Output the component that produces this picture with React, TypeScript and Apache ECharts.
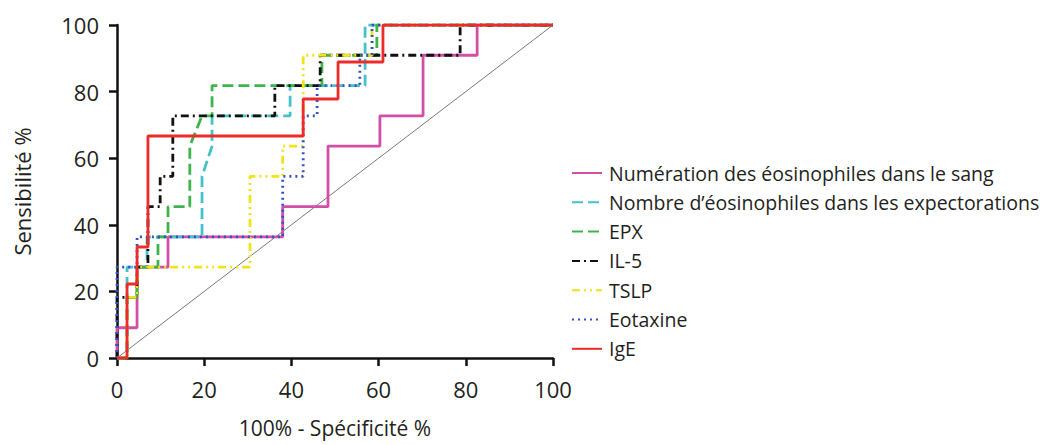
import React, { useEffect, useRef } from "react";
import * as echarts from "echarts";

// [100% - specificity, sensitivity] pairs for each ROC curve
const bloodEosinophils: [number, number][] = [
  [0, 0], [0, 9.09], [4.6, 9.09], [4.6, 27.27], [11.7, 27.27], [11.7, 36.36],
  [38, 36.36], [38, 45.45], [48.4, 45.45], [48.4, 63.64], [60.3, 63.64],
  [60.3, 72.73], [70.2, 72.73], [70.2, 90.91], [82.6, 90.91], [82.6, 100], [100, 100],
];
const sputumEosinophils: [number, number][] = [
  [0, 0], [2.3, 0], [2.3, 27.27], [6.9, 27.27], [6.9, 36.36], [19.5, 36.36],
  [19.5, 54.55], [21.8, 63.64], [21.8, 72.73], [39.7, 72.73], [39.7, 81.82],
  [56.9, 81.82], [56.9, 100], [100, 100],
];
const epx: [number, number][] = [
  [0, 0], [2.3, 0], [2.3, 18.18], [4.6, 18.18], [4.6, 27.27], [9.4, 27.27],
  [9.4, 36.36], [11.7, 36.36], [11.7, 45.45], [16.7, 45.45], [16.7, 63.64],
  [19.5, 72.73], [21.8, 72.73], [21.8, 81.82], [47, 81.82], [47, 90.91],
  [59.6, 90.91], [59.6, 100], [100, 100],
];
const il5: [number, number][] = [
  [0, 0], [0, 18.18], [4.6, 18.18], [4.6, 27.27], [7.1, 27.27], [7.1, 45.45],
  [9.9, 45.45], [9.9, 54.55], [12.8, 54.55], [12.8, 72.73], [36.2, 72.73],
  [36.2, 81.82], [46.6, 81.82], [46.6, 90.91], [78.7, 90.91], [78.7, 100], [100, 100],
];
const tslp: [number, number][] = [
  [0, 0], [2.3, 0], [2.3, 18.18], [4.6, 18.18], [4.6, 27.27], [30.5, 27.27],
  [30.5, 54.55], [38, 54.55], [38, 63.64], [42.7, 63.64], [42.7, 90.91],
  [58.5, 90.91], [58.5, 100], [100, 100],
];
const eotaxin: [number, number][] = [
  [0, 0], [0, 27.27], [4.6, 27.27], [4.6, 36.36], [38, 36.36], [38, 54.55],
  [42.7, 54.55], [42.7, 72.73], [45.9, 72.73], [45.9, 81.82], [55.7, 81.82],
  [55.7, 90.91], [58.5, 90.91], [58.5, 100], [100, 100],
];
const ige: [number, number][] = [
  [0, 0], [2.3, 0], [2.3, 22.22], [4.6, 22.22], [4.6, 33.33], [7.1, 33.33],
  [7.1, 66.67], [42.7, 66.67], [42.7, 77.78], [50.7, 77.78], [50.7, 88.89],
  [61, 88.89], [61, 100], [100, 100],
];
const identityLine: [number, number][] = [[0, 0], [100, 100]];

const seriesNames = [
  "Numération des éosinophiles dans le sang",
  "Nombre d’éosinophiles dans les expectorations",
  "EPX",
  "IL-5",
  "TSLP",
  "Eotaxine",
  "IgE",
];
const xAxisTitle = "100% - Spécificité %";
const yAxisTitle = "Sensibilité %";

const FONT = "'Open Sans', 'Noto Sans', sans-serif";

export default function App() {
  const ref = useRef<HTMLDivElement>(null);
  useEffect(() => {
    if (!ref.current) return;
    const chart = echarts.init(ref.current, undefined, { renderer: "svg" });
    const datasets = [bloodEosinophils, sputumEosinophils, epx, il5, tslp, eotaxin, ige];
    const colors = ["#d24fa6", "#45c2c9", "#3db54a", "#111111", "#f0e418", "#3352c4", "#ee2a2a"];
    const dashes: any[] = ["solid", [11, 5], [11, 5], [8, 4, 2, 4], [8, 4, 2, 4, 2, 4], [2, 4], "solid"];
    const series: any[] = [
      {
        type: "line",
        data: identityLine,
        symbol: "none",
        silent: true,
        lineStyle: { color: "#7a7a7a", width: 1 },
        z: 1,
      },
      ...datasets.map((d, i) => ({
        name: seriesNames[i],
        type: "line",
        data: d,
        symbol: "none",
        lineStyle: { color: colors[i], width: 2.8, type: dashes[i] },
        itemStyle: { color: colors[i] },
        z: 2 + i,
      })),
    ];
    chart.setOption({
      animation: false,
      backgroundColor: "#ffffff",
      grid: {
        left: 117,
        top: 25,
        width: 436,
        height: 333,
        containLabel: false,
        outerBoundsMode: "none",
      },
      legend: {
        data: seriesNames,
        orient: "vertical",
        left: 566,
        top: 158,
        itemWidth: 30,
        itemHeight: 14,
        itemGap: 9.3,
        itemStyle: { opacity: 0 },
        textStyle: { fontFamily: FONT, fontSize: 19.5, color: "#231f20", padding: [0, 0, 0, 2] },
      },
      xAxis: {
        type: "value",
        min: 0,
        max: 100,
        interval: 20,
        name: xAxisTitle,
        nameLocation: "middle",
        nameGap: 59,
        nameTextStyle: { fontFamily: FONT, fontSize: 21, color: "#231f20" },
        axisLine: { show: true, lineStyle: { color: "#111", width: 2.5 } },
        axisTick: { show: true, length: 8, lineStyle: { color: "#111", width: 2.5 } },
        axisLabel: { margin: 20, fontFamily: FONT, fontSize: 22, color: "#231f20" },
        splitLine: { show: false },
      },
      yAxis: {
        type: "value",
        min: 0,
        max: 100,
        interval: 20,
        name: yAxisTitle,
        nameLocation: "middle",
        nameGap: 84,
        nameTextStyle: { fontFamily: FONT, fontSize: 22, color: "#231f20" },
        axisLine: { show: true, lineStyle: { color: "#111", width: 2.5 } },
        axisTick: { show: true, length: 8, lineStyle: { color: "#111", width: 2.5 } },
        axisLabel: { margin: 18, fontFamily: FONT, fontSize: 22, color: "#231f20" },
        splitLine: { show: false },
      },
      series,
    });
    return () => chart.dispose();
  }, []);
  return (
    <div
      ref={ref}
      style={{ position: "fixed", left: 0, top: 0, width: 1040, height: 445, background: "#fff" }}
    />
  );
}
